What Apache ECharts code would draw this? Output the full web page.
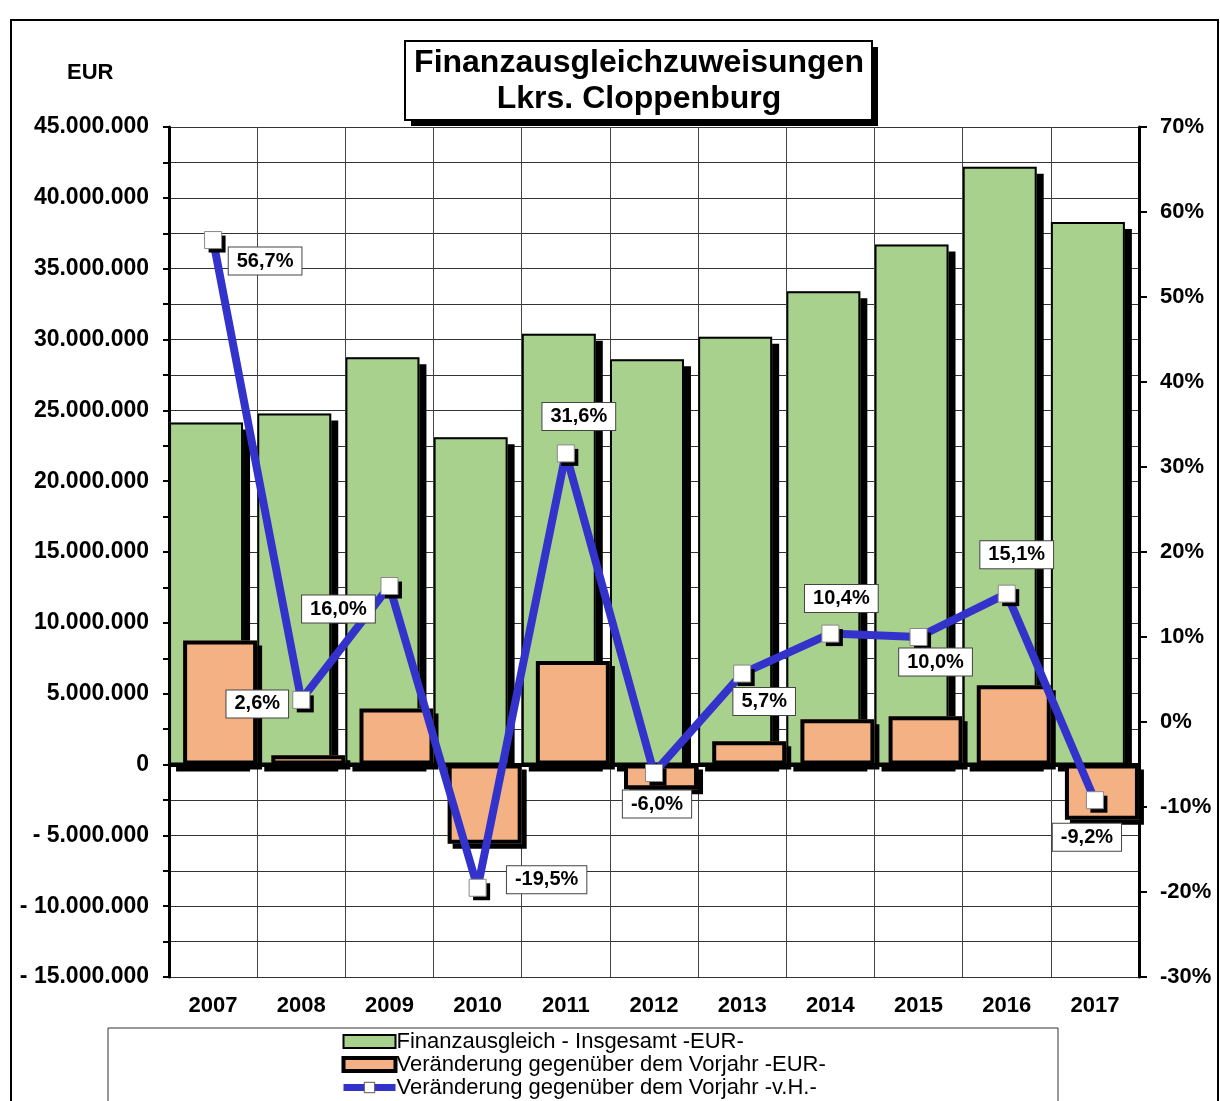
<!DOCTYPE html>
<html>
<head>
<meta charset="utf-8">
<script src="https://cdn.jsdelivr.net/npm/echarts@6/dist/echarts.min.js"></script>
<style>
html,body{margin:0;padding:0;background:#fff;}
#chart{width:1220px;height:1101px;}
</style>
</head>
<body>
<div id="chart"></div>
<script>
// Jahre
var years = ['2007','2008','2009','2010','2011','2012','2013','2014','2015','2016','2017'];
// Finanzausgleich insgesamt (EUR)
var totalEur = [24140000, 24780000, 28750000, 23100000, 30400000, 28600000, 30200000, 33400000, 36700000, 42200000, 38300000];
// Veränderung gegenüber Vorjahr (EUR)
var changeEur = [8750000, 650000, 3950000, -5600000, 7300000, -1750000, 1650000, 3200000, 3400000, 5600000, -3900000];
// Veränderung gegenüber Vorjahr (v.H.)
var changePct = [56.7, 2.6, 16.0, -19.5, 31.6, -6.0, 5.7, 10.4, 10.0, 15.1, -9.2];
// Lage der Beschriftungen relativ zum Punkt
var labelOffsets = [[52,21],[-44,4],[-51,23],[69,-8],[13,-37],[3,31],[22,28],[11,-35],[17,25],[10,-39],[-8,37]];

var fontFam = 'Arial, "Liberation Sans", sans-serif';
var nameTotal = 'Finanzausgleich - Insgesamt -EUR-';
var nameChange = 'Veränderung gegenüber dem Vorjahr -EUR-';
var namePct = 'Veränderung gegenüber dem Vorjahr -v.H.-';

function fmtEur(v){
    if (v % 5000000 !== 0) return '';
    if (v === 0) return '0';
    var s = String(Math.abs(v)).replace(/\B(?=(\d{3})+(?!\d))/g, '.');
    return v < 0 ? '- ' + s : s;
}
function fmtPct(v){
    return v.toFixed(1).replace('.', ',') + '%';
}

var pctData = changePct.map(function(v, i){
    return { value: v, label: { offset: labelOffsets[i] } };
});

var myChart = echarts.init(document.getElementById('chart'));
myChart.setOption({
    backgroundColor: '#fff',
    animation: false,
    textStyle: { fontFamily: fontFam, color: '#000' },
    graphic: [
        // Rahmen
        { type: 'rect', shape: { x: 11, y: 20, width: 1207, height: 1110 }, style: { fill: 'none', stroke: '#000', lineWidth: 2 }, z: -10 },
        // Legendenkasten
        { type: 'rect', shape: { x: 108, y: 1028, width: 950, height: 80 }, style: { fill: '#fff', stroke: '#333', lineWidth: 1 }, z: -5 },
        { type: 'text', left: 67, top: 62, style: { text: 'EUR', font: 'bold 22px ' + fontFam, fill: '#000' } },
        // Titelkasten mit Schatten
        { type: 'rect', shape: { x: 411, y: 47, width: 467, height: 79 }, style: { fill: '#000' }, z: 20 },
        { type: 'rect', shape: { x: 405, y: 41, width: 467, height: 79 }, style: { fill: '#fff', stroke: '#000', lineWidth: 2 }, z: 21 },
        { type: 'text', x: 639, y: 81, z: 22, style: {
            text: 'Finanzausgleichzuweisungen\nLkrs. Cloppenburg',
            font: 'bold 32px ' + fontFam, lineHeight: 36, fill: '#000',
            align: 'center', verticalAlign: 'middle'
        } }
    ],
    legend: {
        orient: 'vertical',
        left: 340,
        top: 1030,
        height: 71,
        padding: 0,
        itemGap: 0,
        itemWidth: 52,
        itemHeight: 13,
        textStyle: { fontSize: 22, lineHeight: 23, fontFamily: fontFam, color: '#000', padding: [0, 0, 0, -4] },
        data: [
            { name: nameTotal, icon: 'rect', itemStyle: { borderColor: '#000', borderWidth: 2, shadowColor: 'transparent' } },
            { name: nameChange, icon: 'rect', itemStyle: { borderColor: '#000', borderWidth: 4, shadowColor: 'transparent' } },
            { name: namePct, itemStyle: { borderColor: '#555', borderWidth: 1, shadowColor: 'transparent' }, lineStyle: { width: 7 } }
        ]
    },
    grid: { left: 169, right: 81, top: 127, bottom: 124 },
    xAxis: [
        {
            type: 'category',
            data: years,
            axisLine: { lineStyle: { color: '#000', width: 3 } },
            axisTick: { show: false },
            axisLabel: { fontSize: 22, fontWeight: 'bold', color: '#000', margin: 18 },
            splitLine: { show: true, lineStyle: { color: '#444', width: 1 } }
        },
        { type: 'category', data: years, show: false }
    ],
    yAxis: [
        {
            type: 'value',
            min: -15000000,
            max: 45000000,
            interval: 2500000,
            axisLine: { show: true, lineStyle: { color: '#000', width: 3 } },
            axisTick: { show: true, length: 6, lineStyle: { color: '#000', width: 2 } },
            axisLabel: { fontSize: 23, fontWeight: 'bold', color: '#000', margin: 20, formatter: fmtEur },
            splitLine: { show: true, lineStyle: { color: '#333', width: 1 } }
        },
        {
            type: 'value',
            min: -30,
            max: 70,
            interval: 10,
            axisLine: { show: true, lineStyle: { color: '#000', width: 3 } },
            axisTick: { show: true, length: 8, lineStyle: { color: '#000', width: 2 } },
            axisLabel: { fontSize: 22, fontWeight: 'bold', color: '#000', margin: 21, formatter: '{value}%' },
            splitLine: { show: false }
        }
    ],
    series: [
        // Flächen mit Schatten
        {
            name: nameTotal,
            type: 'bar',
            z: 2,
            data: totalEur,
            barWidth: 74,
            barGap: '-81%',
            itemStyle: { color: '#A9D18E', shadowColor: '#000', shadowBlur: 0, shadowOffsetX: 7, shadowOffsetY: 7 }
        },
        {
            name: nameChange,
            type: 'bar',
            z: 3,
            data: changeEur,
            barWidth: 74,
            itemStyle: { color: '#F4B183', shadowColor: '#000', shadowBlur: 0, shadowOffsetX: 5, shadowOffsetY: 5 },
            markLine: {
                silent: true,
                symbol: 'none',
                label: { show: false },
                lineStyle: { color: '#000', width: 4, type: 'solid' },
                data: [{ yAxis: 0 }]
            }
        },
        // Umrandungen ohne Schatten
        {
            name: 'rahmenTotal',
            type: 'bar',
            xAxisIndex: 1,
            z: 2,
            data: totalEur,
            barWidth: 74,
            barGap: '-81%',
            silent: true,
            itemStyle: { color: 'transparent', borderColor: '#000', borderWidth: 2 }
        },
        {
            name: 'rahmenChange',
            type: 'bar',
            xAxisIndex: 1,
            z: 3,
            data: changeEur,
            barWidth: 74,
            silent: true,
            itemStyle: { color: 'transparent', borderColor: '#000', borderWidth: 4 }
        },
        // Linie
        {
            name: namePct,
            type: 'line',
            yAxisIndex: 1,
            data: changePct,
            z: 5,
            symbol: 'rect',
            symbolSize: 17,
            lineStyle: { color: '#3333CC', width: 8 },
            itemStyle: { color: '#fff', borderWidth: 0, shadowColor: '#000', shadowBlur: 0, shadowOffsetX: 4, shadowOffsetY: 4 }
        },
        {
            name: 'rahmenPct',
            type: 'line',
            yAxisIndex: 1,
            data: pctData,
            z: 6,
            symbol: 'rect',
            symbolSize: 17,
            lineStyle: { opacity: 0 },
            itemStyle: { color: 'transparent', borderColor: '#888', borderWidth: 1 },
            label: {
                show: true,
                position: 'inside',
                formatter: function(p){ return fmtPct(p.value); },
                fontSize: 20,
                fontWeight: 'bold',
                color: '#000',
                backgroundColor: '#fff',
                borderColor: '#444',
                borderWidth: 1,
                padding: [4, 8, 3, 8]
            }
        }
    ]
});
</script>
</body>
</html>
